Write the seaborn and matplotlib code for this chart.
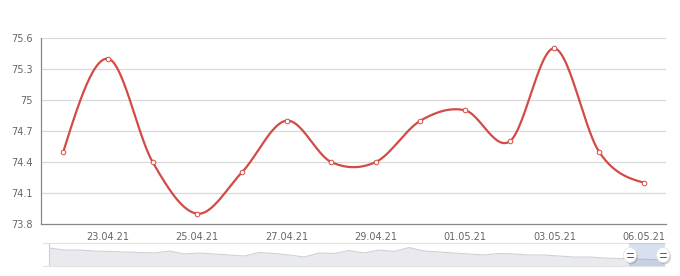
import numpy as np
import pandas as pd
import seaborn as sns
import matplotlib
matplotlib.use("Agg")
import matplotlib.pyplot as plt
from matplotlib.patches import Rectangle, Ellipse

# ---------------- data ----------------
dates = ["22.04.21", "23.04.21", "24.04.21", "25.04.21", "26.04.21", "27.04.21",
         "28.04.21", "29.04.21", "30.04.21", "01.05.21", "02.05.21", "03.05.21",
         "04.05.21", "06.05.21"]
values = [74.5, 75.4, 74.4, 73.9, 74.3, 74.8, 74.4, 74.4, 74.8, 74.9, 74.6, 75.5, 74.5, 74.2]
y_ticks = [73.8, 74.1, 74.4, 74.7, 75.0, 75.3, 75.6]
y_tick_labels = ["73.8", "74.1", "74.4", "74.7", "75", "75.3", "75.6"]
label_every = 2  # labelled categories: 23.04, 25.04, ...

# navigator (full-history overview) values, read by eye
nav_values = [75.6, 75.2, 75.2, 75.0, 74.9, 74.8, 74.7, 74.6, 75.0, 74.4, 74.6, 74.4,
              74.2, 74.0, 74.7, 74.5, 74.2, 73.8, 74.6, 74.5, 75.1, 74.6, 75.2, 74.9,
              75.7, 75.0, 74.8, 74.6, 74.4, 74.2, 74.5, 74.4, 74.2, 74.2, 74.0, 73.8,
              73.8, 73.6, 73.5, 73.4, 73.3, 73.2]

RED = "#d34b47"
GRID = "#d9d9d9"
TXT = "#666666"


def smooth_path(xs, ys, steps=30):
    """Catmull-Rom (cubic Hermite) curve through the points, natural ends."""
    xs = np.asarray(xs, float)
    ys = np.asarray(ys, float)
    n = len(xs)
    m = np.zeros(n)
    for i in range(1, n - 1):
        m[i] = (ys[i + 1] - ys[i - 1]) / 2.0
    m[0] = (3 * (ys[1] - ys[0]) - m[1]) / 2.0
    m[-1] = (3 * (ys[-1] - ys[-2]) - m[-2]) / 2.0
    outx, outy = [xs[0]], [ys[0]]
    t = np.linspace(0, 1, steps)[1:]
    for i in range(n - 1):
        h00 = 2 * t ** 3 - 3 * t ** 2 + 1
        h10 = t ** 3 - 2 * t ** 2 + t
        h01 = -2 * t ** 3 + 3 * t ** 2
        h11 = t ** 3 - t ** 2
        dx = xs[i + 1] - xs[i]
        yy = h00 * ys[i] + h10 * m[i] + h01 * ys[i + 1] + h11 * m[i + 1]
        outx.extend(xs[i] + t * dx)
        outy.extend(yy)
    return np.array(outx), np.array(outy)


sns.set_style("white")
plt.rcParams["font.family"] = ["DejaVu Sans"]

W, H = 680, 276
fig = plt.figure(figsize=(W / 100, H / 100), dpi=100)


def fx(px):
    return px / W


def fy(py):
    return 1 - py / H


# --------------- main chart ---------------
ax = fig.add_axes([fx(41), fy(224), fx(666) - fx(41), fy(38) - fy(224)])
xidx = np.arange(len(values))
cx, cy = smooth_path(xidx, values)
curve = pd.DataFrame({"x": cx, "y": cy})
pts = pd.DataFrame({"x": xidx, "y": values})

for yt in y_ticks[1:]:
    ax.axhline(yt, color=GRID, lw=0.9, zorder=0)

sns.lineplot(data=curve, x="x", y="y", ax=ax, sort=False, estimator=None,
             color=RED, lw=1.6, zorder=3)
sns.scatterplot(data=pts, x="x", y="y", ax=ax, s=11, marker="o",
                facecolor="white", edgecolor=RED, linewidth=0.7, zorder=4)

ax.set_xlim(-0.5, len(values) - 0.5)
ax.set_ylim(y_ticks[0], y_ticks[-1])
ax.set_xlabel("")
ax.set_ylabel("")
ax.set_yticks(y_ticks)
ax.set_yticklabels(y_tick_labels)

# category boundary tick marks; labels at category centres
lab_pos = list(range(1, len(dates), label_every))
ax.set_xticks([p - 0.5 for p in lab_pos] + [len(values) - 0.5])
ax.set_xticklabels([])
ax.set_xticks(lab_pos, minor=True)
ax.set_xticklabels([dates[p] for p in lab_pos], minor=True)
ax.tick_params(axis="x", which="major", length=5, width=0.8, color="#888888", direction="out")
ax.tick_params(axis="x", which="minor", length=0, pad=6, labelsize=7, labelcolor=TXT)
ax.tick_params(axis="y", length=4, width=0.8, color="#888888", direction="out",
               labelsize=7, labelcolor=TXT, pad=2)

for s in ["top", "right"]:
    ax.spines[s].set_visible(False)
for s in ["left", "bottom"]:
    ax.spines[s].set_color("#888888")
    ax.spines[s].set_linewidth(0.9)

# --------------- navigator ---------------
nav = fig.add_axes([fx(43), fy(266), fx(665) - fx(43), fy(243) - fy(266)])
nidx = np.arange(len(nav_values))
navdf = pd.DataFrame({"x": nidx, "y": nav_values})
nav.fill_between(nidx, 72.0, nav_values, color="#e8eaed", lw=0, zorder=1)
sns.lineplot(data=navdf, x="x", y="y", ax=nav, color="#cdd1d6", lw=0.8, zorder=2)
span = len(nav_values) - 1
nav.set_xlim(-0.0105 * span, span + 0.002 * span)
nav.set_ylim(72.0, 76.6)
nav.axvline(0, color="#cdd1d6", lw=0.8, zorder=2)
nav.set_xticks([])
nav.set_yticks([])
nav.set_xlabel("")
nav.set_ylabel("")
for s in nav.spines.values():
    s.set_color("#e2e2e2")
    s.set_linewidth(0.8)
nav.spines["left"].set_visible(False)
nav.spines["right"].set_visible(False)

# selected range mask and handles (in figure pixel coords)
sel0, sel1 = 629, 665
fig.patches.append(Rectangle((fx(sel0), fy(266)), fx(sel1) - fx(sel0), fy(243) - fy(266),
                             transform=fig.transFigure, facecolor="#6685c2", alpha=0.25,
                             lw=0, zorder=5))
for hx in (630, 663):
    fig.patches.append(Ellipse((fx(hx + 1.5), fy(257)), 13 / W, 15 / H,
                               transform=fig.transFigure, facecolor="#999999",
                               alpha=0.45, lw=0, zorder=6))
    fig.patches.append(Ellipse((fx(hx), fy(255)), 13 / W, 15 / H,
                               transform=fig.transFigure, facecolor="white",
                               edgecolor="#e0e0e0", lw=0.5, zorder=7))
    for dy in (-1.6, 1.6):
        fig.lines.append(plt.Line2D([fx(hx - 3), fx(hx + 3)], [fy(255 + dy), fy(255 + dy)],
                                    transform=fig.transFigure, color="#555555", lw=0.7, zorder=8))

fig.savefig("out.png", dpi=100)
